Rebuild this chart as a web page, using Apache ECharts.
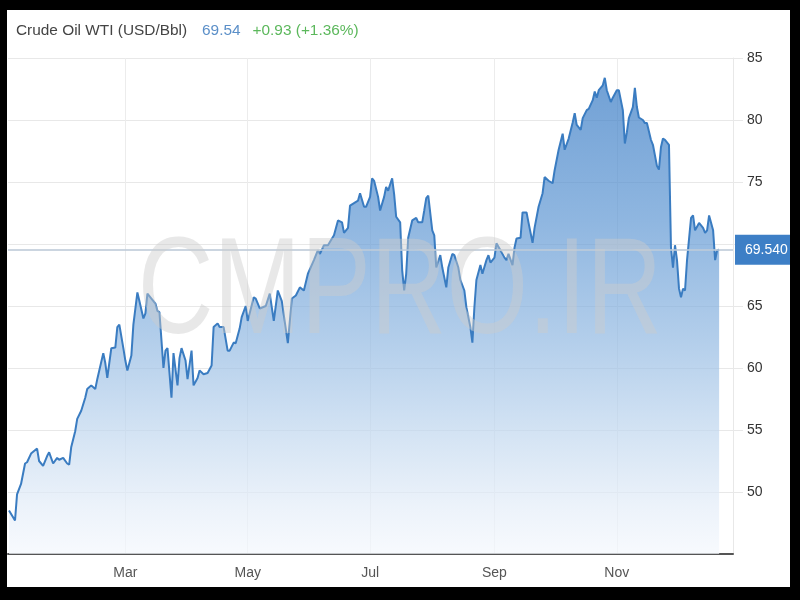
<!DOCTYPE html>
<html>
<head>
<meta charset="utf-8">
<script src="https://cdn.jsdelivr.net/npm/echarts@6/dist/echarts.min.js"></script>
<style>
  html, body { margin: 0; padding: 0; background: #000; width: 800px; height: 600px; overflow: hidden; }
  #chart { position: absolute; left: 7px; top: 10px; width: 783px; height: 577px; background: #fff; }
</style>
</head>
<body>
<div id="chart"></div>
<script>
// Trading day positions: days after 1 Jan 2021
const days = [1,4,5,7,9,10,12,15,16,18,
  20,21,23,25,26,28,30,31,32,34,
  35,37,39,40,42,44,45,46,48,49,
  50,52,54,55,56,58,59,60,62,63,
  65,66,68,69,70,72,74,75,76,78,
  79,80,82,83,85,86,87,89,90,92,
  93,95,96,98,100,102,103,105,106,108,
  110,111,113,114,116,117,119,120,123,124,
  126,129,131,133,135,137,140,142,144,146,
  148,150,153,155,156,158,160,162,163,165,
  167,168,170,171,173,175,176,178,179,181,
  182,183,185,186,188,189,190,192,193,194,
  196,197,198,199,200,202,204,205,207,208,
  209,210,212,213,214,216,217,219,220,222,
  223,225,226,228,229,231,232,233,234,236,
  237,239,240,241,243,244,246,248,249,250,
  252,253,254,256,257,259,260,262,263,265,
  267,268,270,272,273,275,277,278,280,282,
  283,284,286,287,289,290,292,293,294,295,
  297,298,299,301,302,304,305,307,308,309,
  310,312,313,314,315,317,318,319,321,322,
  324,325,326,327,328,330,331,332,333,334,
  335,336,337,338,339,341,342,343,345,347,
  348,349,350,352,353,354,355];
const prices = [48.5,47.7,49.8,50.65,52.3,52.4,53.1,53.5,52.5,52.1,
  52.9,53.2,52.3,52.75,52.6,52.75,52.3,52.2,53.6,54.9,
  55.9,56.55,57.6,58.3,58.6,58.3,59.1,59.8,61.2,60.4,
  59.2,61.6,61.65,63.3,63.5,61.6,60.6,59.8,61.0,63.5,
  66.1,65.4,64.0,64.4,66.0,65.6,65.2,64.6,64.5,60.0,
  61.4,61.6,57.6,61.2,58.6,60.8,61.6,60.6,59.1,61.4,
  58.6,59.2,59.8,59.5,59.6,60.2,63.3,63.6,63.3,63.3,
  61.4,61.4,62.05,62.0,63.2,64.1,65.0,63.8,65.7,65.6,
  64.8,65.0,66.0,63.8,66.25,65.4,62.0,65.6,65.85,66.5,
  66.25,67.6,68.7,69.5,69.2,69.9,69.9,70.45,70.7,71.9,
  71.75,70.9,71.3,73.1,73.3,73.5,74.1,73.0,73.0,73.8,
  75.3,75.1,73.8,72.7,73.8,74.6,74.3,75.3,74.0,72.2,
  71.75,67.9,66.25,67.6,70.5,71.9,72.1,71.75,71.75,72.7,
  73.7,73.9,71.1,70.7,68.1,69.1,68.1,66.5,68.1,69.2,
  69.1,68.1,67.1,66.25,64.9,63.3,62.05,64.9,67.1,68.3,
  67.6,68.7,69.1,68.5,68.9,70.05,69.5,68.9,68.7,69.2,
  68.3,69.7,70.45,70.5,72.55,72.55,71.7,70.1,71.3,73.0,
  74.1,75.4,75.1,74.9,75.95,77.6,78.9,77.6,78.5,79.8,
  80.55,79.6,79.2,80.15,80.8,80.9,81.6,82.3,81.8,82.4,
  82.8,83.4,82.4,81.45,81.8,82.4,82.4,80.8,78.1,79.0,
  80.15,81.05,82.6,81.05,80.2,80.0,79.75,79.75,78.4,78.0,
  76.3,76.0,77.8,78.5,78.4,78.0,69.7,68.1,69.9,68.7,
  66.4,65.7,66.4,66.25,68.7,72.1,72.3,71.1,71.7,71.3,
  70.9,71.1,72.3,71.1,68.7,69.5,69.54];
const monthNames = ['Jan','Feb','Mar','Apr','May','Jun','Jul','Aug','Sep','Oct','Nov','Dec'];
const labelMonths = [2, 4, 6, 8, 10]; // Mar, May, Jul, Sep, Nov
const yTicks = { min: 45, max: 85, step: 5 };
const lastPrice = 69.54;
const titleText = 'Crude Oil WTI (USD/Bbl)';
const changeText = '+0.93 (+1.36%)';

const FONT = "'Liberation Sans Narrow', 'Arial Narrow', 'Liberation Sans', Arial, sans-serif";
const TFONT = "'Liberation Sans', Arial, sans-serif";

const seriesData = days.map((d, i) => [new Date(2021, 0, 1 + d).getTime(), prices[i]]);
const monthTicks = labelMonths.map(m => new Date(2021, m, 1).getTime());

const chart = echarts.init(document.getElementById('chart'), null, { renderer: 'canvas' });
chart.setOption({
  animation: false,
  backgroundColor: '#fff',
  title: {
    left: 4, top: 8,
    text: '{a|' + titleText + '}{b|' + lastPrice.toFixed(2) + '}{c|' + changeText + '}',
    textStyle: {
      fontWeight: 'normal',
      rich: {
        a: { fontSize: 15.4, color: '#444', fontFamily: TFONT, fontWeight: 'normal' },
        b: { fontSize: 15.4, color: '#5b8fc8', fontFamily: TFONT, fontWeight: 'normal', padding: [0, 0, 0, 15] },
        c: { fontSize: 15.4, color: '#5cb85c', fontFamily: TFONT, fontWeight: 'normal', padding: [0, 0, 0, 12] }
      }
    }
  },
  grid: { left: 1, right: 57, top: 48, bottom: 33, containLabel: false },
  xAxis: {
    type: 'value',
    min: new Date(2021, 0, 1, 12).getTime(),
    max: new Date(2021, 11, 28, 22).getTime(),
    axisLine: { show: true, lineStyle: { color: '#555', width: 2 } },
    axisTick: { show: false, customValues: monthTicks },
    axisLabel: {
      customValues: monthTicks,
      formatter: v => monthNames[new Date(v).getMonth()],
      color: '#555', fontSize: 14, fontFamily: FONT, margin: 12
    },
    splitLine: { show: true, lineStyle: { color: '#ececec', width: 1 } }
  },
  yAxis: {
    type: 'value', position: 'right',
    min: yTicks.min, max: yTicks.max, interval: yTicks.step,
    axisLine: { show: true, lineStyle: { color: '#e8e8e8' } },
    axisTick: { show: true, length: 10, lineStyle: { color: '#e8e8e8' } },
    splitLine: { show: true, lineStyle: { color: '#e8e8e8' } },
    axisLabel: { showMinLabel: false, margin: 14, color: '#333', fontSize: 14, fontFamily: FONT }
  },
  graphic: [{
    type: 'text', x: 393, y: 285, z: 100, silent: true, scaleX: 0.76,
    style: {
      text: 'CMPRO.IR', font: 'normal 138px ' + TFONT,
      fill: 'rgba(205,205,205,0.45)', textAlign: 'center', textVerticalAlign: 'middle'
    }
  }],
  series: [{
    type: 'line',
    data: seriesData,
    showSymbol: false,
    symbol: 'none',
    lineStyle: { color: '#3a7cc1', width: 2 },
    areaStyle: {
      color: new echarts.graphic.LinearGradient(0, 0, 0, 1, [
        { offset: 0, color: '#3478c3' },
        { offset: 0.3, color: '#5f97d3' },
        { offset: 0.55, color: '#92b9e2' },
        { offset: 0.75, color: '#c2d8ef' },
        { offset: 0.9, color: '#e4edf8' },
        { offset: 1, color: '#f4f8fd' }
      ])
    },
    markLine: {
      silent: true, symbol: 'none',
      lineStyle: { color: 'rgba(190,202,216,0.8)', width: 2, type: 'solid' },
      label: {
        position: 'end', distance: 2,
        formatter: lastPrice.toFixed(3),
        backgroundColor: '#3d7fc6', color: '#fff',
        fontSize: 14, fontFamily: FONT, padding: [8, 12, 8, 10]
      },
      data: [{ yAxis: lastPrice }]
    }
  }]
});
</script>
</body>
</html>
